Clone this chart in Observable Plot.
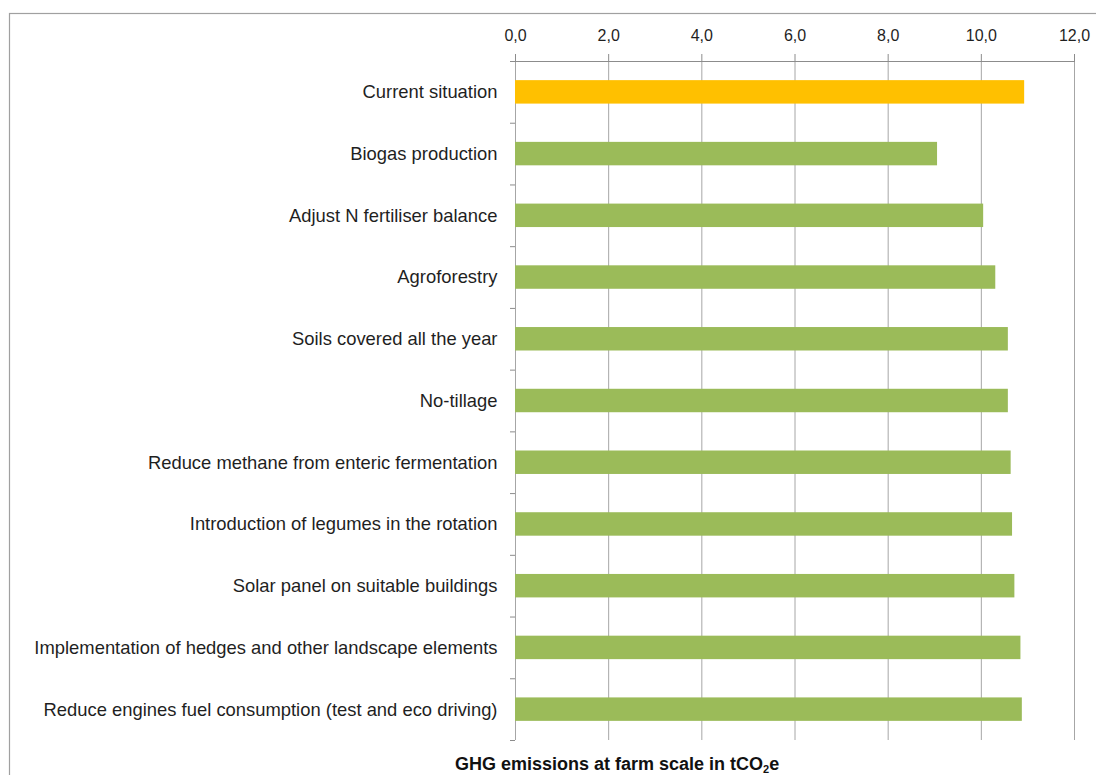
<!DOCTYPE html>
<html>
<head>
<meta charset="utf-8">
<script src="https://cdn.jsdelivr.net/npm/d3@7"></script>
<script src="https://cdn.jsdelivr.net/npm/@observablehq/plot@0.6"></script>
<style>
  html, body { margin: 0; padding: 0; background: #ffffff; }
  #chart svg { display: block; }
</style>
</head>
<body>
<div id="chart"></div>
<script>
const categories = [
  "Current situation",
  "Biogas production",
  "Adjust N fertiliser balance",
  "Agroforestry",
  "Soils covered all the year",
  "No-tillage",
  "Reduce methane from enteric fermentation",
  "Introduction of legumes in the rotation",
  "Solar panel on suitable buildings",
  "Implementation of hedges and other landscape elements",
  "Reduce engines fuel consumption (test and eco driving)"
];
const values = [10.93, 9.06, 10.05, 10.31, 10.58, 10.58, 10.64, 10.67, 10.72, 10.85, 10.88];
const xTicks = [0, 2, 4, 6, 8, 10, 12];
const axisTitle = "GHG emissions at farm scale in tCO";
const axisTitleSub = "2";
const axisTitleEnd = "e";

const n = categories.length;
const rows = categories.map((name, i) => ({name, value: values[i], i}));
const idx = categories.map((_, i) => i);
const boundaries = d3.range(n + 1).map(i => i - 0.5);
const half = 0.19;
const orange = "#FFC000";
const green = "#9BBB59";
const fmt = d => d.toFixed(1).replace(".", ",");

const W = 1096, H = 775;
const chart = Plot.plot({
  width: W,
  height: H,
  marginTop: 61,
  marginBottom: 35,
  marginLeft: 515,
  marginRight: 22,
  style: {fontFamily: "'Liberation Sans', Arial, sans-serif", background: "#ffffff"},
  x: {domain: [0, 12], axis: null, label: null},
  y: {domain: [-0.5, n - 0.5], reverse: true, axis: null, label: null},
  color: {type: "identity"},
  marks: [
    Plot.ruleX(xTicks, {y1: -0.5, y2: n - 0.5, stroke: "#a6a6a6", strokeWidth: 1}),
    Plot.ruleY([-0.5], {x1: 0, x2: 12, stroke: "#8c8c8c"}),
    Plot.rectX(rows, {
      x1: 0, x2: "value",
      y1: d => d.i - half, y2: d => d.i + half,
      fill: d => d.i === 0 ? orange : green
    }),
    Plot.axisX({anchor: "top", label: null, ticks: xTicks, tickSize: 8, tickPadding: 13, tickFormat: fmt,
      fontSize: 16, stroke: "#8c8c8c", fill: "#1f1f1f"}),
    Plot.axisY({anchor: "left", label: null, ticks: idx, tickSize: 0, tickPadding: 18, tickFormat: i => categories[i],
      fontSize: 18.4, fill: "#1f1f1f"}),
    Plot.axisY({anchor: "left", label: null, ticks: boundaries, tickSize: 5, tickFormat: () => "", stroke: "#8c8c8c"})
  ]
});

const svg = d3.select(chart);
svg.insert("rect", ":first-child")
  .attr("x", 9.5).attr("y", 13.5)
  .attr("width", W + 50).attr("height", H + 50)
  .attr("fill", "none").attr("stroke", "#a0a0a0").attr("stroke-width", 1.2);

const t = svg.append("text")
  .attr("x", 455).attr("y", 770)
  .attr("text-anchor", "start")
  .attr("font-family", "'Liberation Sans', Arial, sans-serif")
  .attr("font-size", 18)
  .attr("font-weight", "bold")
  .attr("fill", "#111111");
t.append("tspan").text(axisTitle);
t.append("tspan").attr("font-size", 11).attr("dy", 3).text(axisTitleSub);
t.append("tspan").attr("dy", -3).text(axisTitleEnd);

document.getElementById("chart").appendChild(chart);
</script>
</body>
</html>
